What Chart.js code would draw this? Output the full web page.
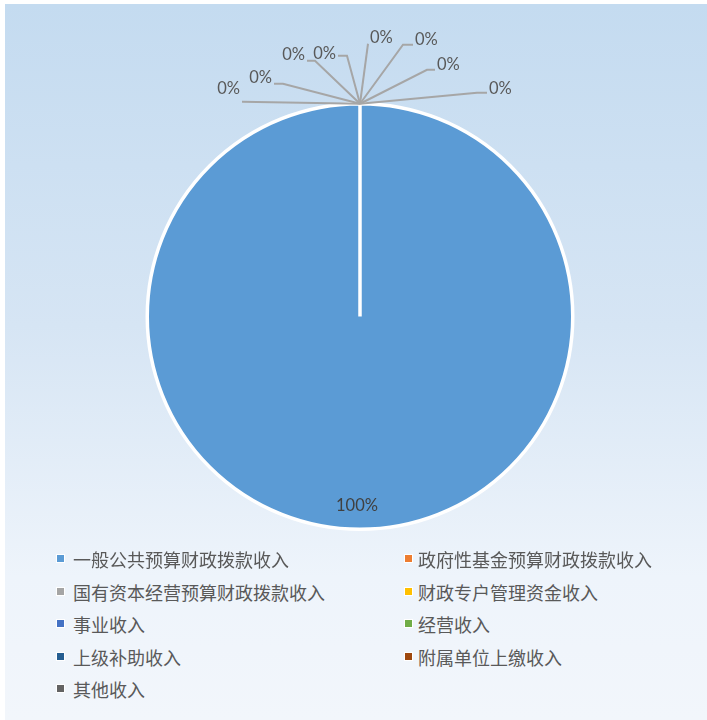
<!DOCTYPE html>
<html>
<head>
<meta charset="utf-8">
<script src="https://cdn.jsdelivr.net/npm/chart.js@4/dist/chart.umd.min.js"></script>
<style>
  html, body { margin: 0; padding: 0; background: #fff; }
  #frame {
    position: absolute; left: 5px; top: 4px; width: 702px; height: 716px;
    background: linear-gradient(to bottom, #c4dbf0 0%, #d6e5f4 45%, #eef4fb 80%, #f2f6fb 100%);
  }
  #wrap { position: absolute; left: 0; top: 0; width: 707px; height: 550px; }
  #legend {
    position: absolute; left: 0; top: 544px; width: 707px;
    font-family: "Noto Sans CJK SC", sans-serif; font-size: 18px; color: #595959;
  }
  .item { position: absolute; height: 30px; line-height: 30px; white-space: nowrap; }
  .item i {
    position: absolute; top: 11px; width: 7px; height: 7px;
    box-shadow: 0 0 0 1px #fff;
  }
</style>
</head>
<body>
<div id="frame"></div>
<div id="wrap"><canvas id="chart-pie" width="707" height="550"></canvas></div>
<div id="legend"></div>
<script>
var categories = ['一般公共预算财政拨款收入', '政府性基金预算财政拨款收入', '国有资本经营预算财政拨款收入',
  '财政专户管理资金收入', '事业收入', '经营收入', '上级补助收入', '附属单位上缴收入', '其他收入'];
var shares = [100, 0, 0, 0, 0, 0, 0, 0, 0];
var sliceColors = ['#5B9BD5', '#ED7D31', '#A5A5A5', '#FFC000', '#4472C4', '#70AD47', '#255E91', '#9E480E', '#636363'];

// leader lines for the empty slices: [dx, dy, hook, textDy] from the point on the rim
var leaders = [[-118, -2, 0, -13], [-77, -20, -9, -6], [-45, -43, -8, -6], [-13, -48, -9, -2],
  [8, -60, 0, -6], [43, -59, 10, -5], [67, -34, 8, -5], [117, -11, 10, -4]];

var pieLabels = {
  id: 'pieLabels',
  afterDatasetsDraw: function (chart) {
    var ctx = chart.ctx;
    var data = chart.data.datasets[0].data;
    var total = data.reduce(function (a, b) { return a + b; }, 0);
    var arcs = chart.getDatasetMeta(0).data;
    var z = 0;
    ctx.save();
    ctx.font = '16.5px Lato';
    ctx.textBaseline = 'middle';
    arcs.forEach(function (arc, i) {
      var p = arc.getProps(['x', 'y', 'startAngle', 'endAngle', 'outerRadius']);
      var txt = Math.round(data[i] / total * 100) + '%';
      if (data[i] > 0) {
        var mid = (p.startAngle + p.endAngle) / 2;
        ctx.fillStyle = '#404040';
        ctx.textAlign = 'center';
        ctx.fillText(txt, p.x + Math.cos(mid) * p.outerRadius * 0.89 - 3, p.y + Math.sin(mid) * p.outerRadius * 0.89);
        return;
      }
      var l = leaders[z++];
      if (!l) return;
      var ax = p.x + Math.cos(p.startAngle) * p.outerRadius;
      var ay = p.y + Math.sin(p.startAngle) * p.outerRadius;
      var ex = ax + l[0], ey = ay + l[1], hx = ex + l[2];
      ctx.strokeStyle = '#a6a6a6';
      ctx.lineWidth = 2;
      ctx.beginPath();
      ctx.moveTo(ax, ay);
      ctx.lineTo(ex, ey);
      ctx.lineTo(hx, ey);
      ctx.stroke();
      var left = l[0] < 0;
      ctx.fillStyle = '#595959';
      ctx.textAlign = left ? 'right' : 'left';
      ctx.fillText(txt, hx + (left ? -2 : 2), ey + l[3]);
    });
    ctx.restore();
  }
};

var pieChart = new Chart(document.getElementById('chart-pie'), {
  type: 'pie',
  data: {
    labels: categories,
    datasets: [{
      data: shares,
      backgroundColor: sliceColors,
      borderColor: '#ffffff',
      borderWidth: 3.5
    }]
  },
  options: {
    responsive: false,
    animation: false,
    layout: { padding: { left: 145, right: 132, top: 102, bottom: 19 } },
    plugins: {
      legend: { display: false },
      tooltip: { enabled: false }
    }
  },
  plugins: [pieLabels]
});

// two-column legend built from the chart's own legend items
var legendBox = document.getElementById('legend');
var items = pieChart.options.plugins.legend.labels.generateLabels(pieChart);
var colX = [73, 418];
var rowH = 32.5;
items.forEach(function (it, i) {
  var d = document.createElement('div');
  d.className = 'item';
  d.style.left = colX[i % 2] + 'px';
  d.style.top = (Math.floor(i / 2) * rowH) + 'px';
  var sq = document.createElement('i');
  sq.style.background = it.fillStyle;
  sq.style.left = (i % 2 ? -13 : -16) + 'px';
  d.appendChild(sq);
  d.appendChild(document.createTextNode(it.text));
  legendBox.appendChild(d);
});
</script>
</body>
</html>
